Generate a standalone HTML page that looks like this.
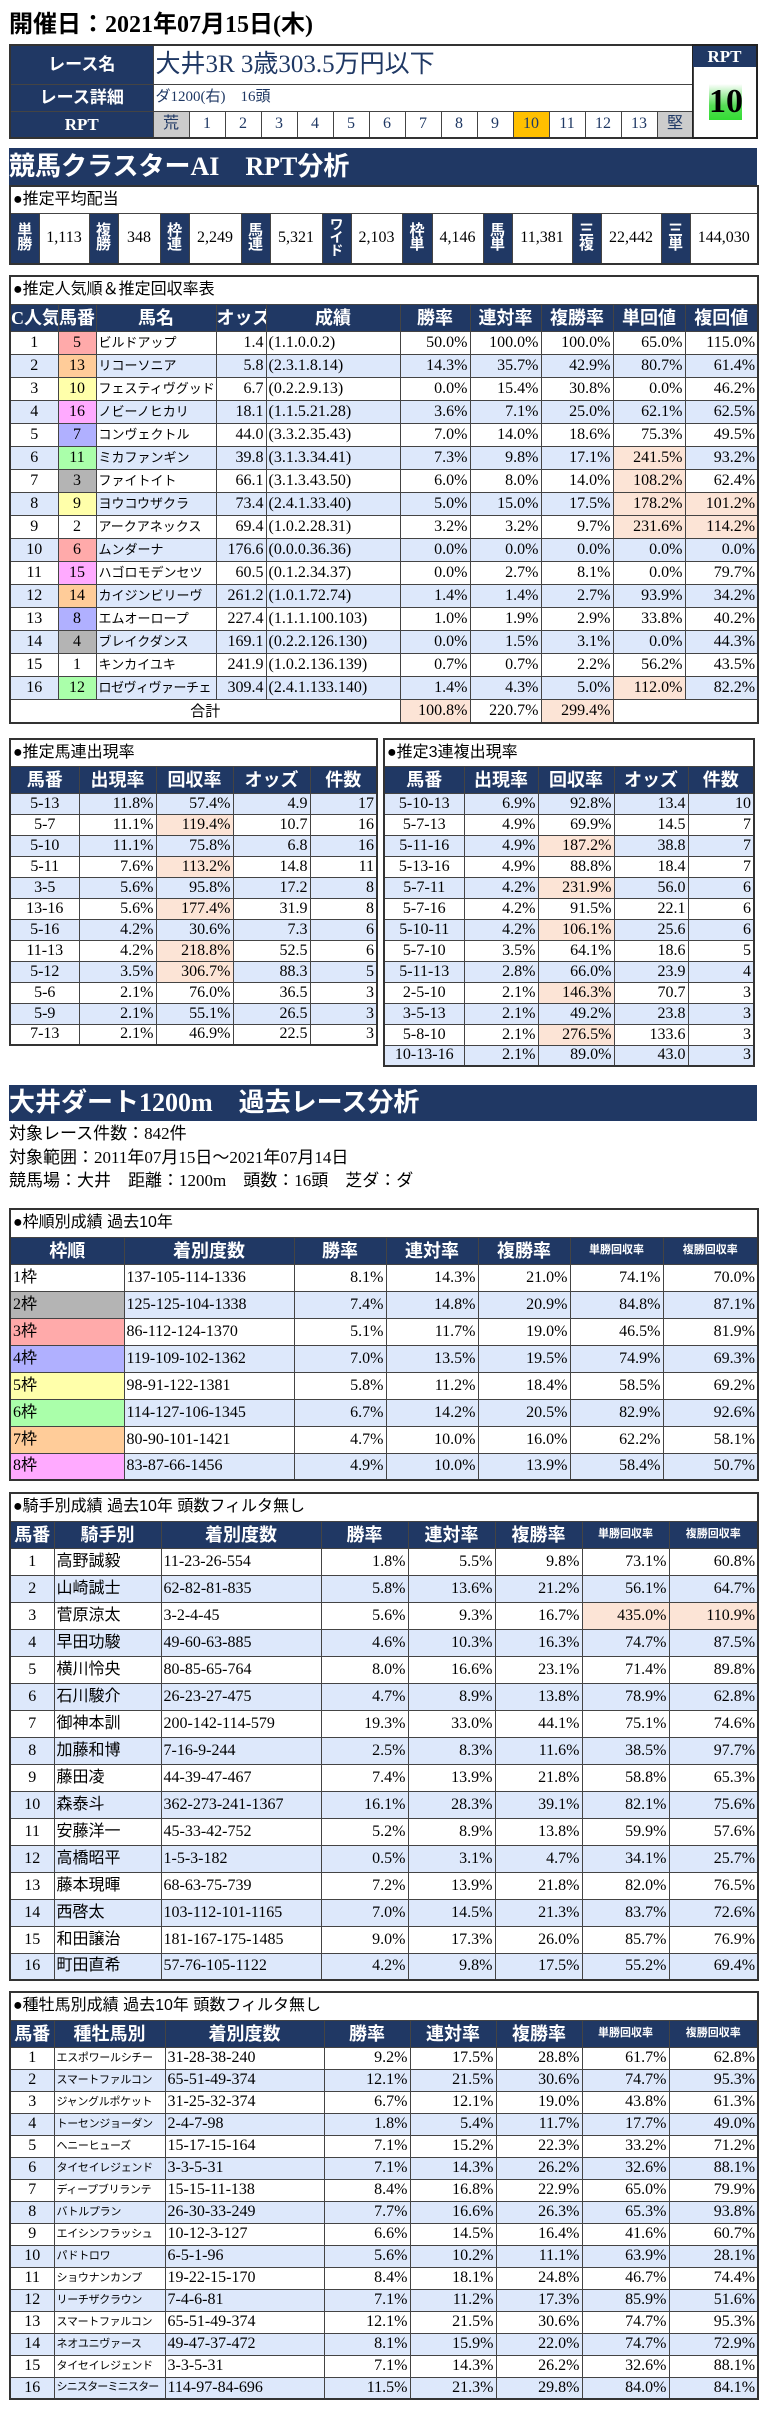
<!DOCTYPE html>
<html><head><meta charset="utf-8">
<style>
body{margin:0;width:784px;height:2417px;position:relative;background:#fff;font-family:"Liberation Serif","Noto Sans CJK JP",sans-serif;color:#000;overflow:hidden}
table{position:absolute;border-collapse:collapse;table-layout:fixed;border:2px solid #333}
td{border:1px solid #444;padding:0 2px;overflow:hidden;white-space:nowrap;font-size:16px;line-height:1}
tr.h td{background:#203864;color:#fff;font-weight:bold;text-align:center;font-size:18px}
td.s{font-size:11px!important}
.b td{background:#dde8fb}
td.p{background:#fce4d6!important}
td.w{background:#fff!important}
.r{text-align:right}
.c{text-align:center}
td.t{font-family:"Liberation Sans","Noto Sans CJK JP",sans-serif;font-size:16px;text-align:left;background:#fff}
.band{position:absolute;left:9px;width:748px;background:#203864;color:#fff;font-weight:bold;font-size:26px;box-sizing:border-box;padding-left:0}
.f1{background:#fff!important}.f2{background:#b4b4b4!important}.f3{background:#ffaaaa!important}.f4{background:#b0b0ff!important}
.f5{background:#ffffaa!important}.f6{background:#aaffaa!important}.f7{background:#ffcc99!important}.f8{background:#ffaaff!important}
td.lb{background:#203864;color:#fff;font-weight:bold;text-align:center;font-size:16px;padding:0}
.vt{writing-mode:vertical-rl;text-orientation:upright;font-family:"Noto Sans CJK JP",sans-serif;font-weight:bold;font-size:15px;line-height:1;letter-spacing:-1px;display:inline-block}
.sm{font-size:13px!important;font-family:"Liberation Sans","Noto Sans CJK JP",sans-serif}
.ss{font-size:11px!important;font-family:"Liberation Sans","Noto Sans CJK JP",sans-serif;letter-spacing:-0.3px}
</style></head><body>

<div style="position:absolute;left:9px;top:10px;font-size:24px;font-weight:bold;line-height:30px">開催日：2021年07月15日(木)</div>

<table style="left:9px;top:44px;width:684px;border-right:1px solid #444">
<colgroup><col style="width:143px"><col span="15" style="width:36px"></colgroup>
<tr style="height:39px"><td class="lb" style="font-size:17px">レース名</td><td colspan="15" style="font-size:25px;color:#1f3864;padding-left:2px">大井3R 3歳303.5万円以下</td></tr>
<tr style="height:27px"><td class="lb" style="font-size:17px">レース詳細</td><td colspan="15" style="font-size:15px;color:#1f3864">ダ1200(右)　16頭</td></tr>
<tr style="height:27px;color:#1f3864" class="c"><td class="lb" style="font-size:17px">RPT</td><td class="c" style="background:#ccc;color:#1f3864">荒</td><td class="c" style="color:#1f3864">1</td><td class="c" style="color:#1f3864">2</td><td class="c" style="color:#1f3864">3</td><td class="c" style="color:#1f3864">4</td><td class="c" style="color:#1f3864">5</td><td class="c" style="color:#1f3864">6</td><td class="c" style="color:#1f3864">7</td><td class="c" style="color:#1f3864">8</td><td class="c" style="color:#1f3864">9</td><td class="c" style="background:#ffc000;color:#1f3864">10</td><td class="c" style="color:#1f3864">11</td><td class="c" style="color:#1f3864">12</td><td class="c" style="color:#1f3864">13</td><td class="c" style="background:#ccc;color:#1f3864">堅</td></tr>
</table>
<div style="position:absolute;left:692px;top:44px;width:63px;height:91px;border:2px solid #222;border-left:1px solid #222">
<div style="height:21px;background:#203864;color:#fff;font-weight:bold;font-size:17px;text-align:center;line-height:21px">RPT</div>
<div style="position:absolute;left:16px;top:38px;width:33px;height:36px;background:linear-gradient(#fff,#5d5 60%,#3d3);font-size:34px;font-weight:bold;text-align:center;line-height:36px">10</div>
</div>

<div class="band" style="top:148px;height:37px;line-height:37px">競馬クラスターAI　RPT分析</div>

<table style="left:9px;top:185px;width:748px">
<colgroup><col style="width:29px"><col style="width:50px"><col style="width:29px"><col style="width:42px"><col style="width:29px"><col style="width:52px"><col style="width:29px"><col style="width:52px"><col style="width:29px"><col style="width:51px"><col style="width:30px"><col style="width:51px"><col style="width:29px"><col style="width:60px"><col style="width:29px"><col style="width:60px"><col style="width:29px"><col style="width:68px"></colgroup>
<tr style="height:27px"><td colspan="18" class="t">●推定平均配当</td></tr>
<tr style="height:51px" class="c"><td class="lb"><span class="vt">単勝</span></td><td class="c">1,113</td><td class="lb"><span class="vt">複勝</span></td><td class="c">348</td><td class="lb"><span class="vt">枠連</span></td><td class="c">2,249</td><td class="lb"><span class="vt">馬連</span></td><td class="c">5,321</td><td class="lb"><span class="vt" style="font-size:14px">ワイド</span></td><td class="c">2,103</td><td class="lb"><span class="vt">枠単</span></td><td class="c">4,146</td><td class="lb"><span class="vt">馬単</span></td><td class="c">11,381</td><td class="lb"><span class="vt">三複</span></td><td class="c">22,442</td><td class="lb"><span class="vt">三単</span></td><td class="c">144,030</td></tr>
</table>

<table style="left:9px;top:275px;width:748px">
<colgroup><col style="width:48px"><col style="width:38px"><col style="width:120px"><col style="width:50px"><col style="width:134px"><col style="width:70px"><col style="width:71px"><col style="width:72px"><col style="width:72px"><col style="width:73px"></colgroup>
<tr style="height:28px"><td colspan="10" class="t">●推定人気順＆推定回収率表</td></tr>
<tr class="h" style="height:27px"><td style="padding:0">C人気</td><td style="padding:0">馬番</td><td>馬名</td><td style="padding:0">オッズ</td><td>成績</td><td>勝率</td><td>連対率</td><td>複勝率</td><td>単回値</td><td>複回値</td></tr>
<tr style="height:23px"><td class="c">1</td><td class="c f3">5</td><td class="sm">ビルドアップ</td><td class="r">1.4</td><td>(1.1.0.0.2)</td><td class="r">50.0%</td><td class="r">100.0%</td><td class="r">100.0%</td><td class="r">65.0%</td><td class="r">115.0%</td></tr>
<tr style="height:23px" class="b"><td class="c">2</td><td class="c f7">13</td><td class="sm">リコーソニア</td><td class="r">5.8</td><td>(2.3.1.8.14)</td><td class="r">14.3%</td><td class="r">35.7%</td><td class="r">42.9%</td><td class="r">80.7%</td><td class="r">61.4%</td></tr>
<tr style="height:23px"><td class="c">3</td><td class="c f5">10</td><td class="sm">フェスティヴグッド</td><td class="r">6.7</td><td>(0.2.2.9.13)</td><td class="r">0.0%</td><td class="r">15.4%</td><td class="r">30.8%</td><td class="r">0.0%</td><td class="r">46.2%</td></tr>
<tr style="height:23px" class="b"><td class="c">4</td><td class="c f8">16</td><td class="sm">ノビーノヒカリ</td><td class="r">18.1</td><td>(1.1.5.21.28)</td><td class="r">3.6%</td><td class="r">7.1%</td><td class="r">25.0%</td><td class="r">62.1%</td><td class="r">62.5%</td></tr>
<tr style="height:23px"><td class="c">5</td><td class="c f4">7</td><td class="sm">コンヴェクトル</td><td class="r">44.0</td><td>(3.3.2.35.43)</td><td class="r">7.0%</td><td class="r">14.0%</td><td class="r">18.6%</td><td class="r">75.3%</td><td class="r">49.5%</td></tr>
<tr style="height:23px" class="b"><td class="c">6</td><td class="c f6">11</td><td class="sm">ミカファンギン</td><td class="r">39.8</td><td>(3.1.3.34.41)</td><td class="r">7.3%</td><td class="r">9.8%</td><td class="r">17.1%</td><td class="r p">241.5%</td><td class="r">93.2%</td></tr>
<tr style="height:23px"><td class="c">7</td><td class="c f2">3</td><td class="sm">ファイトイト</td><td class="r">66.1</td><td>(3.1.3.43.50)</td><td class="r">6.0%</td><td class="r">8.0%</td><td class="r">14.0%</td><td class="r p">108.2%</td><td class="r">62.4%</td></tr>
<tr style="height:23px" class="b"><td class="c">8</td><td class="c f5">9</td><td class="sm">ヨウコウザクラ</td><td class="r">73.4</td><td>(2.4.1.33.40)</td><td class="r">5.0%</td><td class="r">15.0%</td><td class="r">17.5%</td><td class="r p">178.2%</td><td class="r p">101.2%</td></tr>
<tr style="height:23px"><td class="c">9</td><td class="c f1">2</td><td class="sm">アークアネックス</td><td class="r">69.4</td><td>(1.0.2.28.31)</td><td class="r">3.2%</td><td class="r">3.2%</td><td class="r">9.7%</td><td class="r p">231.6%</td><td class="r p">114.2%</td></tr>
<tr style="height:23px" class="b"><td class="c">10</td><td class="c f3">6</td><td class="sm">ムンダーナ</td><td class="r">176.6</td><td>(0.0.0.36.36)</td><td class="r">0.0%</td><td class="r">0.0%</td><td class="r">0.0%</td><td class="r">0.0%</td><td class="r">0.0%</td></tr>
<tr style="height:23px"><td class="c">11</td><td class="c f8">15</td><td class="sm">ハゴロモデンセツ</td><td class="r">60.5</td><td>(0.1.2.34.37)</td><td class="r">0.0%</td><td class="r">2.7%</td><td class="r">8.1%</td><td class="r">0.0%</td><td class="r">79.7%</td></tr>
<tr style="height:23px" class="b"><td class="c">12</td><td class="c f7">14</td><td class="sm">カイジンビリーヴ</td><td class="r">261.2</td><td>(1.0.1.72.74)</td><td class="r">1.4%</td><td class="r">1.4%</td><td class="r">2.7%</td><td class="r">93.9%</td><td class="r">34.2%</td></tr>
<tr style="height:23px"><td class="c">13</td><td class="c f4">8</td><td class="sm">エムオーロープ</td><td class="r">227.4</td><td>(1.1.1.100.103)</td><td class="r">1.0%</td><td class="r">1.9%</td><td class="r">2.9%</td><td class="r">33.8%</td><td class="r">40.2%</td></tr>
<tr style="height:23px" class="b"><td class="c">14</td><td class="c f2">4</td><td class="sm">ブレイクダンス</td><td class="r">169.1</td><td>(0.2.2.126.130)</td><td class="r">0.0%</td><td class="r">1.5%</td><td class="r">3.1%</td><td class="r">0.0%</td><td class="r">44.3%</td></tr>
<tr style="height:23px"><td class="c">15</td><td class="c f1">1</td><td class="sm">キンカイユキ</td><td class="r">241.9</td><td>(1.0.2.136.139)</td><td class="r">0.7%</td><td class="r">0.7%</td><td class="r">2.2%</td><td class="r">56.2%</td><td class="r">43.5%</td></tr>
<tr style="height:23px" class="b"><td class="c">16</td><td class="c f6">12</td><td class="sm" style="letter-spacing:-0.5px">ロゼヴィヴァーチェ</td><td class="r">309.4</td><td>(2.4.1.133.140)</td><td class="r">1.4%</td><td class="r">4.3%</td><td class="r">5.0%</td><td class="r p">112.0%</td><td class="r">82.2%</td></tr>
<tr style="height:24px"><td colspan="5" class="c" style="font-family:'Noto Sans CJK JP',sans-serif;font-size:15px">合計</td><td class="r p">100.8%</td><td class="r">220.7%</td><td class="r p">299.4%</td><td colspan="2"></td></tr>
</table>

<table style="left:9px;top:738px;width:369px">
<colgroup><col style="width:69px"><col style="width:77px"><col style="width:77px"><col style="width:77px"><col style="width:67px"></colgroup>
<tr style="height:27px"><td colspan="5" class="t">●推定馬連出現率</td></tr>
<tr class="h" style="height:27px"><td>馬番</td><td>出現率</td><td>回収率</td><td>オッズ</td><td>件数</td></tr>
<tr class="b" style="height:21px"><td class="c">5-13</td><td class="r">11.8%</td><td class="r">57.4%</td><td class="r">4.9</td><td class="r">17</td></tr>
<tr style="height:21px"><td class="c">5-7</td><td class="r">11.1%</td><td class="r p">119.4%</td><td class="r">10.7</td><td class="r">16</td></tr>
<tr class="b" style="height:21px"><td class="c">5-10</td><td class="r">11.1%</td><td class="r">75.8%</td><td class="r">6.8</td><td class="r">16</td></tr>
<tr style="height:21px"><td class="c">5-11</td><td class="r">7.6%</td><td class="r p">113.2%</td><td class="r">14.8</td><td class="r">11</td></tr>
<tr class="b" style="height:21px"><td class="c">3-5</td><td class="r">5.6%</td><td class="r">95.8%</td><td class="r">17.2</td><td class="r">8</td></tr>
<tr style="height:21px"><td class="c">13-16</td><td class="r">5.6%</td><td class="r p">177.4%</td><td class="r">31.9</td><td class="r">8</td></tr>
<tr class="b" style="height:21px"><td class="c">5-16</td><td class="r">4.2%</td><td class="r">30.6%</td><td class="r">7.3</td><td class="r">6</td></tr>
<tr style="height:21px"><td class="c">11-13</td><td class="r">4.2%</td><td class="r p">218.8%</td><td class="r">52.5</td><td class="r">6</td></tr>
<tr class="b" style="height:21px"><td class="c">5-12</td><td class="r">3.5%</td><td class="r p">306.7%</td><td class="r">88.3</td><td class="r">5</td></tr>
<tr style="height:21px"><td class="c">5-6</td><td class="r">2.1%</td><td class="r">76.0%</td><td class="r">36.5</td><td class="r">3</td></tr>
<tr class="b" style="height:21px"><td class="c">5-9</td><td class="r">2.1%</td><td class="r">55.1%</td><td class="r">26.5</td><td class="r">3</td></tr>
<tr style="height:21px"><td class="c">7-13</td><td class="r">2.1%</td><td class="r">46.9%</td><td class="r">22.5</td><td class="r">3</td></tr>
</table>

<table style="left:383px;top:738px;width:370px">
<colgroup><col style="width:80px"><col style="width:74px"><col style="width:76px"><col style="width:74px"><col style="width:66px"></colgroup>
<tr style="height:27px"><td colspan="5" class="t">●推定3連複出現率</td></tr>
<tr class="h" style="height:27px"><td>馬番</td><td>出現率</td><td>回収率</td><td>オッズ</td><td>件数</td></tr>
<tr class="b" style="height:21px"><td class="c">5-10-13</td><td class="r">6.9%</td><td class="r">92.8%</td><td class="r">13.4</td><td class="r">10</td></tr>
<tr style="height:21px"><td class="c">5-7-13</td><td class="r">4.9%</td><td class="r">69.9%</td><td class="r">14.5</td><td class="r">7</td></tr>
<tr class="b" style="height:21px"><td class="c">5-11-16</td><td class="r">4.9%</td><td class="r p">187.2%</td><td class="r">38.8</td><td class="r">7</td></tr>
<tr style="height:21px"><td class="c">5-13-16</td><td class="r">4.9%</td><td class="r">88.8%</td><td class="r">18.4</td><td class="r">7</td></tr>
<tr class="b" style="height:21px"><td class="c">5-7-11</td><td class="r">4.2%</td><td class="r p">231.9%</td><td class="r">56.0</td><td class="r">6</td></tr>
<tr style="height:21px"><td class="c">5-7-16</td><td class="r">4.2%</td><td class="r">91.5%</td><td class="r">22.1</td><td class="r">6</td></tr>
<tr class="b" style="height:21px"><td class="c">5-10-11</td><td class="r">4.2%</td><td class="r p">106.1%</td><td class="r">25.6</td><td class="r">6</td></tr>
<tr style="height:21px"><td class="c">5-7-10</td><td class="r">3.5%</td><td class="r">64.1%</td><td class="r">18.6</td><td class="r">5</td></tr>
<tr class="b" style="height:21px"><td class="c">5-11-13</td><td class="r">2.8%</td><td class="r">66.0%</td><td class="r">23.9</td><td class="r">4</td></tr>
<tr style="height:21px"><td class="c">2-5-10</td><td class="r">2.1%</td><td class="r p">146.3%</td><td class="r">70.7</td><td class="r">3</td></tr>
<tr class="b" style="height:21px"><td class="c">3-5-13</td><td class="r">2.1%</td><td class="r">49.2%</td><td class="r">23.8</td><td class="r">3</td></tr>
<tr style="height:21px"><td class="c">5-8-10</td><td class="r">2.1%</td><td class="r p">276.5%</td><td class="r">133.6</td><td class="r">3</td></tr>
<tr class="b" style="height:21px"><td class="c">10-13-16</td><td class="r">2.1%</td><td class="r">89.0%</td><td class="r">43.0</td><td class="r">3</td></tr>
</table>

<div class="band" style="top:1085px;height:36px;line-height:36px">大井ダート1200m　過去レース分析</div>
<div style="position:absolute;left:9px;top:1122px;font-size:17px;line-height:23.5px;font-family:'Liberation Serif','Noto Sans CJK JP',sans-serif">対象レース件数：842件<br>対象範囲：2011年07月15日～2021年07月14日<br>競馬場：大井　距離：1200m　頭数：16頭　芝ダ：ダ</div>

<table style="left:9px;top:1208px;width:748px">
<colgroup><col style="width:114px"><col style="width:170px"><col style="width:92px"><col style="width:92px"><col style="width:92px"><col style="width:93px"><col style="width:95px"></colgroup>
<tr style="height:28px"><td colspan="7" class="t">●枠順別成績 過去10年</td></tr>
<tr class="h" style="height:27px"><td>枠順</td><td>着別度数</td><td>勝率</td><td>連対率</td><td>複勝率</td><td class="s">単勝回収率</td><td class="s">複勝回収率</td></tr>
<tr style="height:27px"><td class="f1">1枠</td><td>137-105-114-1336</td><td class="r">8.1%</td><td class="r">14.3%</td><td class="r">21.0%</td><td class="r">74.1%</td><td class="r">70.0%</td></tr>
<tr class="b" style="height:27px"><td class="f2">2枠</td><td>125-125-104-1338</td><td class="r">7.4%</td><td class="r">14.8%</td><td class="r">20.9%</td><td class="r">84.8%</td><td class="r">87.1%</td></tr>
<tr style="height:27px"><td class="f3">3枠</td><td>86-112-124-1370</td><td class="r">5.1%</td><td class="r">11.7%</td><td class="r">19.0%</td><td class="r">46.5%</td><td class="r">81.9%</td></tr>
<tr class="b" style="height:27px"><td class="f4">4枠</td><td>119-109-102-1362</td><td class="r">7.0%</td><td class="r">13.5%</td><td class="r">19.5%</td><td class="r">74.9%</td><td class="r">69.3%</td></tr>
<tr style="height:27px"><td class="f5">5枠</td><td>98-91-122-1381</td><td class="r">5.8%</td><td class="r">11.2%</td><td class="r">18.4%</td><td class="r">58.5%</td><td class="r">69.2%</td></tr>
<tr class="b" style="height:27px"><td class="f6">6枠</td><td>114-127-106-1345</td><td class="r">6.7%</td><td class="r">14.2%</td><td class="r">20.5%</td><td class="r">82.9%</td><td class="r">92.6%</td></tr>
<tr style="height:27px"><td class="f7">7枠</td><td>80-90-101-1421</td><td class="r">4.7%</td><td class="r">10.0%</td><td class="r">16.0%</td><td class="r">62.2%</td><td class="r">58.1%</td></tr>
<tr class="b" style="height:27px"><td class="f8">8枠</td><td>83-87-66-1456</td><td class="r">4.9%</td><td class="r">10.0%</td><td class="r">13.9%</td><td class="r">58.4%</td><td class="r">50.7%</td></tr>
</table>

<table style="left:9px;top:1492px;width:748px">
<colgroup><col style="width:44px"><col style="width:107px"><col style="width:160px"><col style="width:87px"><col style="width:87px"><col style="width:87px"><col style="width:87px"><col style="width:89px"></colgroup>
<tr style="height:28px"><td colspan="8" class="t">●騎手別成績 過去10年 頭数フィルタ無し</td></tr>
<tr class="h" style="height:27px"><td style="padding:0">馬番</td><td>騎手別</td><td>着別度数</td><td>勝率</td><td>連対率</td><td>複勝率</td><td class="s">単勝回収率</td><td class="s">複勝回収率</td></tr>
<tr style="height:27px"><td class="c">1</td><td>高野誠毅</td><td>11-23-26-554</td><td class="r">1.8%</td><td class="r">5.5%</td><td class="r">9.8%</td><td class="r">73.1%</td><td class="r">60.8%</td></tr>
<tr class="b" style="height:27px"><td class="c">2</td><td>山崎誠士</td><td>62-82-81-835</td><td class="r">5.8%</td><td class="r">13.6%</td><td class="r">21.2%</td><td class="r">56.1%</td><td class="r">64.7%</td></tr>
<tr style="height:27px"><td class="c">3</td><td>菅原涼太</td><td>3-2-4-45</td><td class="r">5.6%</td><td class="r">9.3%</td><td class="r">16.7%</td><td class="r p">435.0%</td><td class="r p">110.9%</td></tr>
<tr class="b" style="height:27px"><td class="c">4</td><td>早田功駿</td><td>49-60-63-885</td><td class="r">4.6%</td><td class="r">10.3%</td><td class="r">16.3%</td><td class="r">74.7%</td><td class="r">87.5%</td></tr>
<tr style="height:27px"><td class="c">5</td><td>横川怜央</td><td>80-85-65-764</td><td class="r">8.0%</td><td class="r">16.6%</td><td class="r">23.1%</td><td class="r">71.4%</td><td class="r">89.8%</td></tr>
<tr class="b" style="height:27px"><td class="c">6</td><td>石川駿介</td><td>26-23-27-475</td><td class="r">4.7%</td><td class="r">8.9%</td><td class="r">13.8%</td><td class="r">78.9%</td><td class="r">62.8%</td></tr>
<tr style="height:27px"><td class="c">7</td><td>御神本訓</td><td>200-142-114-579</td><td class="r">19.3%</td><td class="r">33.0%</td><td class="r">44.1%</td><td class="r">75.1%</td><td class="r">74.6%</td></tr>
<tr class="b" style="height:27px"><td class="c">8</td><td>加藤和博</td><td>7-16-9-244</td><td class="r">2.5%</td><td class="r">8.3%</td><td class="r">11.6%</td><td class="r">38.5%</td><td class="r">97.7%</td></tr>
<tr style="height:27px"><td class="c">9</td><td>藤田凌</td><td>44-39-47-467</td><td class="r">7.4%</td><td class="r">13.9%</td><td class="r">21.8%</td><td class="r">58.8%</td><td class="r">65.3%</td></tr>
<tr class="b" style="height:27px"><td class="c">10</td><td>森泰斗</td><td>362-273-241-1367</td><td class="r">16.1%</td><td class="r">28.3%</td><td class="r">39.1%</td><td class="r">82.1%</td><td class="r">75.6%</td></tr>
<tr style="height:27px"><td class="c">11</td><td>安藤洋一</td><td>45-33-42-752</td><td class="r">5.2%</td><td class="r">8.9%</td><td class="r">13.8%</td><td class="r">59.9%</td><td class="r">57.6%</td></tr>
<tr class="b" style="height:27px"><td class="c">12</td><td>高橋昭平</td><td>1-5-3-182</td><td class="r">0.5%</td><td class="r">3.1%</td><td class="r">4.7%</td><td class="r">34.1%</td><td class="r">25.7%</td></tr>
<tr style="height:27px"><td class="c">13</td><td>藤本現暉</td><td>68-63-75-739</td><td class="r">7.2%</td><td class="r">13.9%</td><td class="r">21.8%</td><td class="r">82.0%</td><td class="r">76.5%</td></tr>
<tr class="b" style="height:27px"><td class="c">14</td><td>西啓太</td><td>103-112-101-1165</td><td class="r">7.0%</td><td class="r">14.5%</td><td class="r">21.3%</td><td class="r">83.7%</td><td class="r">72.6%</td></tr>
<tr style="height:27px"><td class="c">15</td><td>和田譲治</td><td>181-167-175-1485</td><td class="r">9.0%</td><td class="r">17.3%</td><td class="r">26.0%</td><td class="r">85.7%</td><td class="r">76.9%</td></tr>
<tr class="b" style="height:27px"><td class="c">16</td><td>町田直希</td><td>57-76-105-1122</td><td class="r">4.2%</td><td class="r">9.8%</td><td class="r">17.5%</td><td class="r">55.2%</td><td class="r">69.4%</td></tr>
</table>

<table style="left:9px;top:1991px;width:748px">
<colgroup><col style="width:44px"><col style="width:111px"><col style="width:159px"><col style="width:86px"><col style="width:86px"><col style="width:86px"><col style="width:87px"><col style="width:89px"></colgroup>
<tr style="height:28px"><td colspan="8" class="t">●種牡馬別成績 過去10年 頭数フィルタ無し</td></tr>
<tr class="h" style="height:27px"><td style="padding:0">馬番</td><td>種牡馬別</td><td>着別度数</td><td>勝率</td><td>連対率</td><td>複勝率</td><td class="s">単勝回収率</td><td class="s">複勝回収率</td></tr>
<tr style="height:22px"><td class="c">1</td><td class="ss">エスポワールシチー</td><td>31-28-38-240</td><td class="r">9.2%</td><td class="r">17.5%</td><td class="r">28.8%</td><td class="r">61.7%</td><td class="r">62.8%</td></tr>
<tr class="b" style="height:22px"><td class="c">2</td><td class="ss">スマートファルコン</td><td>65-51-49-374</td><td class="r">12.1%</td><td class="r">21.5%</td><td class="r">30.6%</td><td class="r">74.7%</td><td class="r">95.3%</td></tr>
<tr style="height:22px"><td class="c">3</td><td class="ss">ジャングルポケット</td><td>31-25-32-374</td><td class="r">6.7%</td><td class="r">12.1%</td><td class="r">19.0%</td><td class="r">43.8%</td><td class="r">61.3%</td></tr>
<tr class="b" style="height:22px"><td class="c">4</td><td class="ss">トーセンジョーダン</td><td>2-4-7-98</td><td class="r">1.8%</td><td class="r">5.4%</td><td class="r">11.7%</td><td class="r">17.7%</td><td class="r">49.0%</td></tr>
<tr style="height:22px"><td class="c">5</td><td class="ss">ヘニーヒューズ</td><td>15-17-15-164</td><td class="r">7.1%</td><td class="r">15.2%</td><td class="r">22.3%</td><td class="r">33.2%</td><td class="r">71.2%</td></tr>
<tr class="b" style="height:22px"><td class="c">6</td><td class="ss">タイセイレジェンド</td><td>3-3-5-31</td><td class="r">7.1%</td><td class="r">14.3%</td><td class="r">26.2%</td><td class="r">32.6%</td><td class="r">88.1%</td></tr>
<tr style="height:22px"><td class="c">7</td><td class="ss">ディープブリランテ</td><td>15-15-11-138</td><td class="r">8.4%</td><td class="r">16.8%</td><td class="r">22.9%</td><td class="r">65.0%</td><td class="r">79.9%</td></tr>
<tr class="b" style="height:22px"><td class="c">8</td><td class="ss">バトルプラン</td><td>26-30-33-249</td><td class="r">7.7%</td><td class="r">16.6%</td><td class="r">26.3%</td><td class="r">65.3%</td><td class="r">93.8%</td></tr>
<tr style="height:22px"><td class="c">9</td><td class="ss">エイシンフラッシュ</td><td>10-12-3-127</td><td class="r">6.6%</td><td class="r">14.5%</td><td class="r">16.4%</td><td class="r">41.6%</td><td class="r">60.7%</td></tr>
<tr class="b" style="height:22px"><td class="c">10</td><td class="ss">パドトロワ</td><td>6-5-1-96</td><td class="r">5.6%</td><td class="r">10.2%</td><td class="r">11.1%</td><td class="r">63.9%</td><td class="r">28.1%</td></tr>
<tr style="height:22px"><td class="c">11</td><td class="ss">ショウナンカンプ</td><td>19-22-15-170</td><td class="r">8.4%</td><td class="r">18.1%</td><td class="r">24.8%</td><td class="r">46.7%</td><td class="r">74.4%</td></tr>
<tr class="b" style="height:22px"><td class="c">12</td><td class="ss">リーチザクラウン</td><td>7-4-6-81</td><td class="r">7.1%</td><td class="r">11.2%</td><td class="r">17.3%</td><td class="r">85.9%</td><td class="r">51.6%</td></tr>
<tr style="height:22px"><td class="c">13</td><td class="ss">スマートファルコン</td><td>65-51-49-374</td><td class="r">12.1%</td><td class="r">21.5%</td><td class="r">30.6%</td><td class="r">74.7%</td><td class="r">95.3%</td></tr>
<tr class="b" style="height:22px"><td class="c">14</td><td class="ss">ネオユニヴァース</td><td>49-47-37-472</td><td class="r">8.1%</td><td class="r">15.9%</td><td class="r">22.0%</td><td class="r">74.7%</td><td class="r">72.9%</td></tr>
<tr style="height:22px"><td class="c">15</td><td class="ss">タイセイレジェンド</td><td>3-3-5-31</td><td class="r">7.1%</td><td class="r">14.3%</td><td class="r">26.2%</td><td class="r">32.6%</td><td class="r">88.1%</td></tr>
<tr class="b" style="height:22px"><td class="c">16</td><td class="ss" style="letter-spacing:-0.8px">シニスターミニスター</td><td>114-97-84-696</td><td class="r">11.5%</td><td class="r">21.3%</td><td class="r">29.8%</td><td class="r">84.0%</td><td class="r">84.1%</td></tr>
</table>
</body></html>
